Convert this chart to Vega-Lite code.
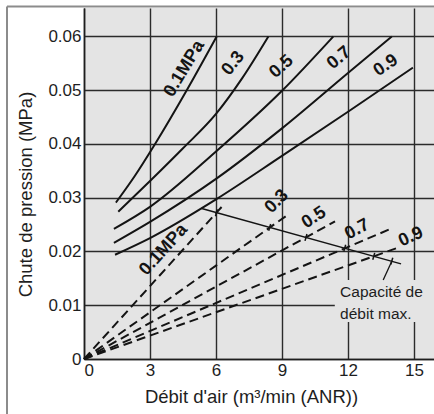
{
  "$schema": "https://vega.github.io/schema/vega-lite/v6.json",
  "width": 352,
  "height": 351,
  "autosize": {"type": "none"},
  "padding": {"left": 84, "top": 8, "right": 0, "bottom": 55},
  "background": "white",
  "config": {
    "view": {"fill": "#e4e4e4", "stroke": null},
    "font": "Liberation Sans",
    "axis": {
      "grid": true,
      "gridColor": "#2b2b2b",
      "gridWidth": 1.4,
      "gridOpacity": 1,
      "domain": true,
      "domainColor": "#1e1e1e",
      "domainWidth": 1.6,
      "ticks": false,
      "labelFont": "Liberation Sans",
      "labelFontSize": 17,
      "labelColor": "#1e1e1e",
      "titleFont": "Liberation Sans",
      "titleFontSize": 18.5,
      "titleFontWeight": "normal",
      "titleColor": "#1e1e1e"
    }
  },
  "datasets": {
    "solid": [
      {"p": "0.1", "q": 1.45, "dp": 0.0291},
      {"p": "0.1", "q": 2.3, "dp": 0.034},
      {"p": "0.1", "q": 3.23, "dp": 0.04},
      {"p": "0.1", "q": 4.67, "dp": 0.05},
      {"p": "0.1", "q": 6.03, "dp": 0.06},
      {"p": "0.3", "q": 1.56, "dp": 0.0274},
      {"p": "0.3", "q": 3.0, "dp": 0.0331},
      {"p": "0.3", "q": 4.5, "dp": 0.0392},
      {"p": "0.3", "q": 6.0, "dp": 0.0456},
      {"p": "0.3", "q": 7.2, "dp": 0.0523},
      {"p": "0.3", "q": 8.38, "dp": 0.06},
      {"p": "0.5", "q": 1.36, "dp": 0.0242},
      {"p": "0.5", "q": 3.0, "dp": 0.0283},
      {"p": "0.5", "q": 6.0, "dp": 0.0386},
      {"p": "0.5", "q": 9.0, "dp": 0.0499},
      {"p": "0.5", "q": 11.33, "dp": 0.06},
      {"p": "0.7", "q": 1.36, "dp": 0.0216},
      {"p": "0.7", "q": 3.0, "dp": 0.0255},
      {"p": "0.7", "q": 6.0, "dp": 0.0335},
      {"p": "0.7", "q": 9.0, "dp": 0.0429},
      {"p": "0.7", "q": 12.0, "dp": 0.0532},
      {"p": "0.7", "q": 13.99, "dp": 0.06},
      {"p": "0.9", "q": 1.41, "dp": 0.0194},
      {"p": "0.9", "q": 3.0, "dp": 0.0225},
      {"p": "0.9", "q": 6.0, "dp": 0.0297},
      {"p": "0.9", "q": 9.0, "dp": 0.0378},
      {"p": "0.9", "q": 12.0, "dp": 0.046},
      {"p": "0.9", "q": 14.95, "dp": 0.0542}
    ],
    "dashed": [
      {"p": "0.1", "q": 0, "dp": 0},
      {"p": "0.1", "q": 6.26, "dp": 0.0283},
      {"p": "0.3", "q": 0, "dp": 0},
      {"p": "0.3", "q": 9.29, "dp": 0.0269},
      {"p": "0.5", "q": 0, "dp": 0},
      {"p": "0.5", "q": 11.41, "dp": 0.0256},
      {"p": "0.7", "q": 0, "dp": 0},
      {"p": "0.7", "q": 13.99, "dp": 0.0243},
      {"p": "0.9", "q": 0, "dp": 0},
      {"p": "0.9", "q": 14.2, "dp": 0.0206}
    ],
    "capacity": [
      {"q": 5.35, "dp": 0.028},
      {"q": 14.41, "dp": 0.0177}
    ],
    "capacityMarks": [
      {"q": 6.02, "dp": 0.0272},
      {"q": 8.44, "dp": 0.02448},
      {"q": 10.09, "dp": 0.02261},
      {"q": 11.85, "dp": 0.02061},
      {"q": 13.17, "dp": 0.01911},
      {"q": 13.99, "dp": 0.0182}
    ],
    "leader": [
      {"q": 13.6, "dp": 0.0147},
      {"q": 13.99, "dp": 0.0182}
    ],
    "noteBox": [
      {"q": 11.4, "q2": 16, "dp": 0.0069, "dp2": 0.0147}
    ],
    "note": [
      {"q": 11.64, "dp": 0.0116, "text": "Capacité de"},
      {"q": 11.64, "dp": 0.0075, "text": "débit max."}
    ],
    "frameLeft": [
      {"q": -3.5, "dp": 0.0656, "dp2": -0.0105}
    ],
    "frameTop": [
      {"q": -3.5, "q2": 16, "dp": 0.0656}
    ],
    "labels": [
      {"id": "s1", "text": "0.1MPa", "q": 4.56, "dp": 0.054},
      {"id": "s3", "text": "0.3", "q": 6.78, "dp": 0.055},
      {"id": "s5", "text": "0.5", "q": 8.98, "dp": 0.0544},
      {"id": "s7", "text": "0.7", "q": 11.6, "dp": 0.056},
      {"id": "s9", "text": "0.9", "q": 13.72, "dp": 0.0546},
      {"id": "d1", "text": "0.1MPa", "q": 3.62, "dp": 0.0203},
      {"id": "d3", "text": "0.3", "q": 8.76, "dp": 0.0293},
      {"id": "d5", "text": "0.5", "q": 10.45, "dp": 0.0263},
      {"id": "d7", "text": "0.7", "q": 12.42, "dp": 0.0241},
      {"id": "d9", "text": "0.9", "q": 14.86, "dp": 0.0227}
    ]
  },
  "encoding": {
    "x": {
      "field": "q",
      "type": "quantitative",
      "scale": {"domain": [0, 16], "nice": false, "zero": false},
      "axis": {
        "values": [0, 3, 6, 9, 12, 15],
        "labelPadding": 3,
        "title": "Débit d'air (m³/min (ANR))",
        "titleX": 167,
        "titleY": 43,
        "titleAlign": "center",
        "titleAnchor": null,
        "titleBaseline": "alphabetic"
      }
    },
    "y": {
      "field": "dp",
      "type": "quantitative",
      "scale": {"domain": [0, 0.0653], "nice": false, "zero": false},
      "axis": {
        "values": [0, 0.01, 0.02, 0.03, 0.04, 0.05, 0.06],
        "labelExpr": "datum.value == 0 ? '0' : format(datum.value, '.2f')",
        "labelPadding": 3,
        "title": "Chute de pression (MPa)",
        "titleX": -59,
        "titleY": 186,
        "titleAngle": 270,
        "titleAlign": "center",
        "titleAnchor": null,
        "titleBaseline": "middle"
      }
    }
  },
  "layer": [
    {
      "data": {"name": "noteBox"},
      "mark": {"type": "rect", "fill": "#e4e4e4"},
      "encoding": {
        "x2": {"field": "q2"},
        "y2": {"field": "dp2"}
      }
    },
    {
      "data": {"name": "solid"},
      "mark": {"type": "line", "interpolate": "monotone", "color": "#141414", "strokeWidth": 2},
      "encoding": {"detail": {"field": "p"}}
    },
    {
      "data": {"name": "dashed"},
      "mark": {"type": "line", "color": "#141414", "strokeWidth": 2, "strokeDash": [9, 5]},
      "encoding": {"detail": {"field": "p"}}
    },
    {
      "data": {"name": "capacity"},
      "mark": {"type": "line", "color": "#141414", "strokeWidth": 1.5}
    },
    {
      "data": {"name": "leader"},
      "mark": {"type": "line", "color": "#141414", "strokeWidth": 1.3}
    },
    {
      "data": {"name": "capacityMarks"},
      "mark": {"type": "point", "shape": "M0,-1L0,1", "size": 50, "angle": 16, "filled": false, "stroke": "#141414", "strokeWidth": 1.5, "opacity": 1}
    },
    {
      "data": {"name": "labels"},
      "layer": [
        {"transform": [{"filter": "datum.id == 's1'"}], "mark": {"type": "text", "angle": -59, "fontSize": 18, "fontWeight": "bold", "color": "#141414", "baseline": "middle"}, "encoding": {"text": {"field": "text"}}},
        {"transform": [{"filter": "datum.id == 's3'"}], "mark": {"type": "text", "angle": -52, "fontSize": 18, "fontWeight": "bold", "color": "#141414", "baseline": "middle"}, "encoding": {"text": {"field": "text"}}},
        {"transform": [{"filter": "datum.id == 's5'"}], "mark": {"type": "text", "angle": -42, "fontSize": 18, "fontWeight": "bold", "color": "#141414", "baseline": "middle"}, "encoding": {"text": {"field": "text"}}},
        {"transform": [{"filter": "datum.id == 's7'"}], "mark": {"type": "text", "angle": -40, "fontSize": 18, "fontWeight": "bold", "color": "#141414", "baseline": "middle"}, "encoding": {"text": {"field": "text"}}},
        {"transform": [{"filter": "datum.id == 's9'"}], "mark": {"type": "text", "angle": -34, "fontSize": 18, "fontWeight": "bold", "color": "#141414", "baseline": "middle"}, "encoding": {"text": {"field": "text"}}},
        {"transform": [{"filter": "datum.id == 'd1'"}], "mark": {"type": "text", "angle": -48, "fontSize": 18, "fontWeight": "bold", "color": "#141414", "baseline": "middle"}, "encoding": {"text": {"field": "text"}}},
        {"transform": [{"filter": "datum.id == 'd3'"}], "mark": {"type": "text", "angle": -45, "fontSize": 18, "fontWeight": "bold", "color": "#141414", "baseline": "middle"}, "encoding": {"text": {"field": "text"}}},
        {"transform": [{"filter": "datum.id == 'd5'"}], "mark": {"type": "text", "angle": -33, "fontSize": 18, "fontWeight": "bold", "color": "#141414", "baseline": "middle"}, "encoding": {"text": {"field": "text"}}},
        {"transform": [{"filter": "datum.id == 'd7'"}], "mark": {"type": "text", "angle": -28, "fontSize": 18, "fontWeight": "bold", "color": "#141414", "baseline": "middle"}, "encoding": {"text": {"field": "text"}}},
        {"transform": [{"filter": "datum.id == 'd9'"}], "mark": {"type": "text", "angle": -25, "fontSize": 18, "fontWeight": "bold", "color": "#141414", "baseline": "middle"}, "encoding": {"text": {"field": "text"}}}
      ]
    },
    {
      "data": {"name": "note"},
      "mark": {"type": "text", "align": "left", "baseline": "alphabetic", "font": "Liberation Sans", "fontSize": 15.5, "color": "#1e1e1e"},
      "encoding": {"text": {"field": "text"}}
    },
    {
      "data": {"name": "frameLeft"},
      "mark": {"type": "rule", "color": "#8c8c8c", "strokeWidth": 2},
      "encoding": {"y2": {"field": "dp2"}}
    },
    {
      "data": {"name": "frameTop"},
      "mark": {"type": "rule", "color": "#8c8c8c", "strokeWidth": 2},
      "encoding": {"x2": {"field": "q2"}}
    }
  ]
}
